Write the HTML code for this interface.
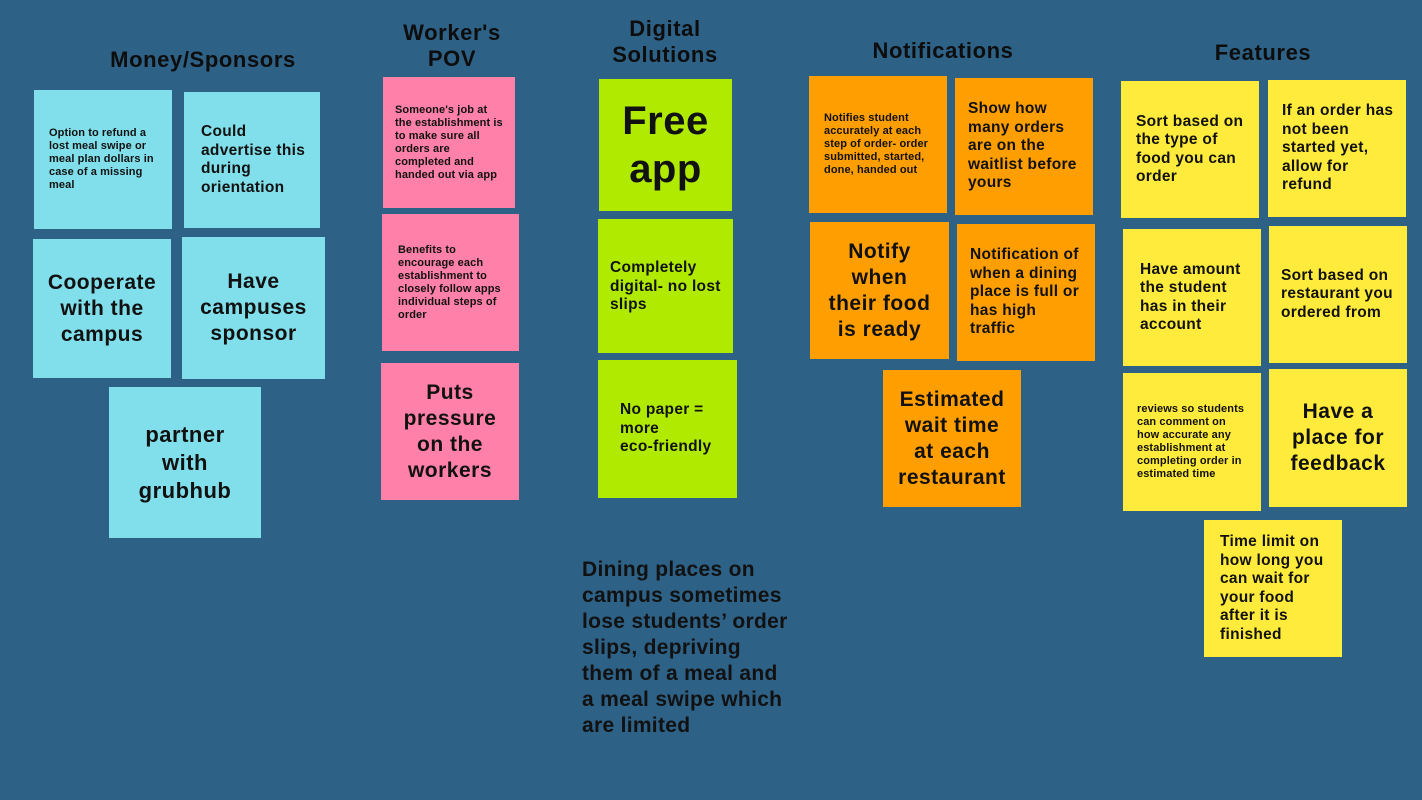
<!DOCTYPE html>
<html><head><meta charset="utf-8"><style>
body{margin:0;width:1422px;height:800px;background:#2e6186;position:relative;overflow:hidden;font-family:"Liberation Sans",sans-serif;font-weight:bold;color:#111}
.h{position:absolute;font-size:22px;text-align:center;line-height:26px;color:#0d0d0d;letter-spacing:0.6px;white-space:nowrap}
.n{position:absolute;box-sizing:border-box;display:flex;flex-direction:column;justify-content:center;white-space:nowrap}
.c{background:#80dfea}.p{background:#ff80a8}.g{background:#afea00}.o{background:#ff9e00}.y{background:#ffeb3b}
.s{font-size:11px;line-height:13px;padding-left:14px;letter-spacing:0.1px}
.m{font-size:15.5px;line-height:18.5px;padding-left:15px;letter-spacing:0.3px}
.l{font-size:21px;line-height:26px;text-align:center;letter-spacing:0.5px}
</style></head><body>
<div class="h" style="left:83px;top:47px;width:240px">Money/Sponsors</div>
<div class="h" style="left:372px;top:20px;width:160px">Worker's<br>POV</div>
<div class="h" style="left:585px;top:16px;width:160px">Digital<br>Solutions</div>
<div class="h" style="left:843px;top:38px;width:200px">Notifications</div>
<div class="h" style="left:1183px;top:40px;width:160px">Features</div>

<div class="n c s" style="left:34px;top:90px;width:138px;height:139px;padding-left:15px">Option to refund a<br>lost meal swipe or<br>meal plan dollars in<br>case of a missing<br>meal</div>
<div class="n c m" style="left:184px;top:92px;width:136px;height:136px;padding-left:17px">Could<br>advertise this<br>during<br>orientation</div>
<div class="n c l" style="left:33px;top:239px;width:138px;height:139px">Cooperate<br>with the<br>campus</div>
<div class="n c l" style="left:182px;top:237px;width:143px;height:142px">Have<br>campuses<br>sponsor</div>
<div class="n c l" style="left:109px;top:387px;width:152px;height:151px;font-size:22px;line-height:28px">partner<br>with<br>grubhub</div>

<div class="n p s" style="left:383px;top:77px;width:132px;height:131px;padding-left:12px;justify-content:flex-start;padding-top:27px">Someone's job at<br>the establishment is<br>to make sure all<br>orders are<br>completed and<br>handed out via app</div>
<div class="n p s" style="left:382px;top:214px;width:137px;height:137px;padding-left:16px">Benefits to<br>encourage each<br>establishment to<br>closely follow apps<br>individual steps of<br>order</div>
<div class="n p l" style="left:381px;top:363px;width:138px;height:137px">Puts<br>pressure<br>on the<br>workers</div>

<div class="n g l" style="left:599px;top:79px;width:133px;height:132px;font-size:40px;line-height:48px">Free<br>app</div>
<div class="n g m" style="left:598px;top:219px;width:135px;height:134px;padding-left:12px;justify-content:flex-start;padding-top:40px">Completely<br>digital- no lost<br>slips</div>
<div class="n g m" style="left:598px;top:360px;width:139px;height:138px;padding-left:22px">No paper =<br>more<br>eco-friendly</div>

<div class="n o s" style="left:809px;top:76px;width:138px;height:137px;padding-left:15px">Notifies student<br>accurately at each<br>step of order- order<br>submitted, started,<br>done, handed out</div>
<div class="n o m" style="left:955px;top:78px;width:138px;height:137px;padding-left:13px">Show how<br>many orders<br>are on the<br>waitlist before<br>yours</div>
<div class="n o l" style="left:810px;top:222px;width:139px;height:137px">Notify<br>when<br>their food<br>is ready</div>
<div class="n o m" style="left:957px;top:224px;width:138px;height:137px;padding-left:13px">Notification of<br>when a dining<br>place is full or<br>has high<br>traffic</div>
<div class="n o l" style="left:883px;top:370px;width:138px;height:137px">Estimated<br>wait time<br>at each<br>restaurant</div>

<div class="n y m" style="left:1121px;top:81px;width:138px;height:137px;padding-left:15px">Sort based on<br>the type of<br>food you can<br>order</div>
<div class="n y m" style="left:1268px;top:80px;width:138px;height:137px;padding-left:14px">If an order has<br>not been<br>started yet,<br>allow for<br>refund</div>
<div class="n y m" style="left:1123px;top:229px;width:138px;height:137px;padding-left:17px">Have amount<br>the student<br>has in their<br>account</div>
<div class="n y m" style="left:1269px;top:226px;width:138px;height:137px;padding-left:12px">Sort based on<br>restaurant you<br>ordered from</div>
<div class="n y s" style="left:1123px;top:373px;width:138px;height:138px;padding-left:14px">reviews so students<br>can comment on<br>how accurate any<br>establishment at<br>completing order in<br>estimated time</div>
<div class="n y l" style="left:1269px;top:369px;width:138px;height:138px">Have a<br>place for<br>feedback</div>
<div class="n y m" style="left:1204px;top:520px;width:138px;height:137px;padding-left:16px">Time limit on<br>how long you<br>can wait for<br>your food<br>after it is<br>finished</div>

<div style="position:absolute;left:582px;top:557px;width:240px;font-size:21px;line-height:26px;white-space:nowrap;letter-spacing:0.3px">Dining places on<br>campus sometimes<br>lose students’ order<br>slips, depriving<br>them of a meal and<br>a meal swipe which<br>are limited</div>
</body></html>
